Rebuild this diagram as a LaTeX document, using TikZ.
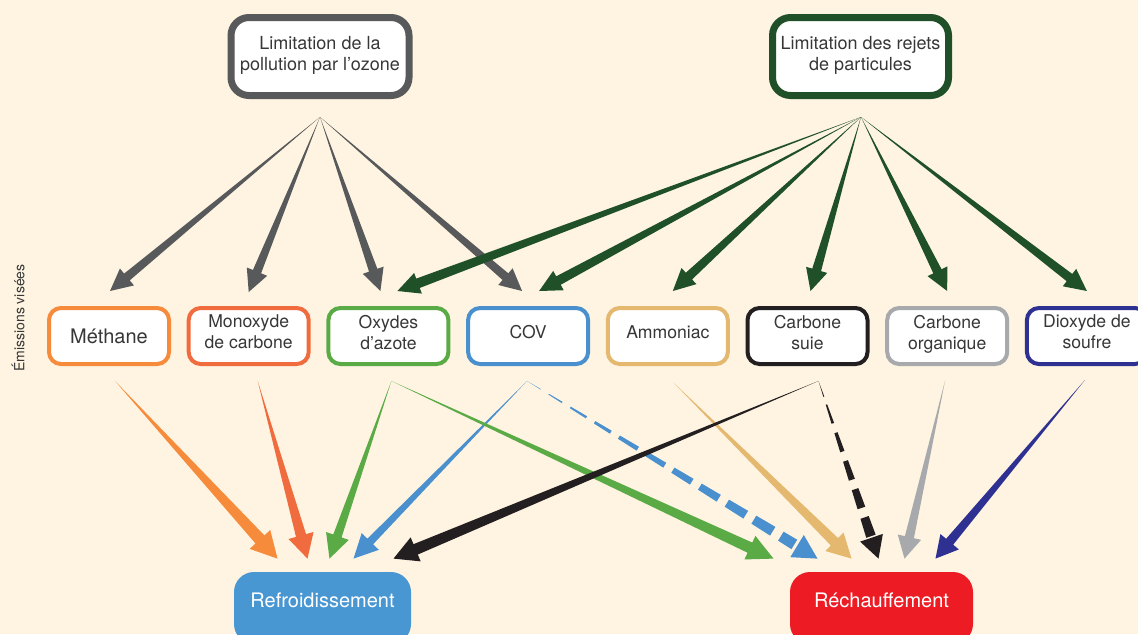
\documentclass[tikz,border=0pt]{standalone}
\usepackage{fontspec}
\setmainfont{TeX Gyre Heros}
\usetikzlibrary{calc}

\definecolor{fond}{RGB}{254,244,225}
\definecolor{texte}{RGB}{55,55,55}
\definecolor{grisOzone}{RGB}{88,89,91}
\definecolor{vertPart}{RGB}{31,80,40}
\definecolor{cMet}{RGB}{246,139,60}
\definecolor{cMon}{RGB}{240,108,62}
\definecolor{cOxy}{RGB}{90,170,70}
\definecolor{cCov}{RGB}{74,144,207}
\definecolor{cAmm}{RGB}{229,184,112}
\definecolor{cSuie}{RGB}{35,31,32}
\definecolor{cOrg}{RGB}{167,169,172}
\definecolor{cDio}{RGB}{46,49,146}
\definecolor{bleuRefr}{RGB}{72,150,210}
\definecolor{rougeRech}{RGB}{237,28,36}

\tikzset{
  cible/.style={draw, line width=3.5pt, rounded corners=9pt, fill=white, align=center,
    text=texte, minimum width=89pt, minimum height=39pt, text depth=3.5pt,
    font=\fontsize{9}{10.5}\selectfont},
  emission/.style={draw=#1, line width=2pt, rounded corners=6pt, fill=white, align=center,
    text=texte, minimum width=60pt, minimum height=28pt, text depth=4pt,
    font=\fontsize{8.8}{10.5}\selectfont},
  effet/.style={fill=#1, rounded corners=10pt, text=white, minimum height=36pt,
    text height=7.5pt, text depth=8pt, font=\fontsize{10}{12}\selectfont}
}

% wedge arrow: colour, from, to, shaft half width, head half width, head length
\newcommand{\fleche}[6]{%
  \coordinate (f-de) at (#2);
  \coordinate (f-a) at (#3);
  \coordinate (f-b) at ($(f-a)!#6!(f-de)$);
  \fill[#1] (f-de) -- ($(f-b)!#4!90:(f-a)$) -- ($(f-b)!#5!90:(f-a)$) -- (f-a)
    -- ($(f-b)!#5!-90:(f-a)$) -- ($(f-b)!#4!-90:(f-a)$) -- cycle;
}
% same, dashed shaft (#7 = list of dash fractions)
\newcommand{\flechepointillee}[7]{%
  \coordinate (f-de) at (#2);
  \coordinate (f-a) at (#3);
  \coordinate (f-b) at ($(f-a)!#6!(f-de)$);
  \fill[#1] ($(f-b)!#5!90:(f-a)$) -- (f-a) -- ($(f-b)!#5!-90:(f-a)$) -- cycle;
  \foreach \tA/\tB in {#7} {
    \coordinate (f-p) at ($(f-de)!\tA!(f-b)$);
    \coordinate (f-q) at ($(f-de)!\tB!(f-b)$);
    \fill[#1] ($(f-p)!\tA*#4!90:(f-b)$) -- ($(f-q)!\tB*#4!90:(f-b)$)
      -- ($(f-q)!\tB*#4!-90:(f-b)$) -- ($(f-p)!\tA*#4!-90:(f-b)$) -- cycle;
  }
}

\begin{document}
\begin{tikzpicture}[x=0.5pt, y=-0.5pt]
\useasboundingbox[fill=fond] (0,0) rectangle (1138,634);

% targets
\node[cible, draw=grisOzone] (ozone) at (320,56.5) {Limitation de la\\pollution par l'ozone};
\node[cible, draw=vertPart, minimum width=88pt] (part) at (860.5,56.5) {Limitation des rejets\\de particules};
\coordinate (ozone-pt) at (320,117);
\coordinate (part-pt) at (861,117);

% emissions
\node[rotate=90, text=texte, font=\fontsize{7}{8}\selectfont] (axe) at (18,318) {Émissions visées};
\node[emission=cMet, text depth=0pt, font=\fontsize{10}{12}\selectfont] (met) at (109,336) {Méthane};
\node[emission=cMon] (mon) at (248.7,336) {Monoxyde\\de carbone};
\node[emission=cOxy] (oxy) at (388.4,336) {Oxydes\\d'azote};
\node[emission=cCov] (cov) at (528.1,336) {COV};
\node[emission=cAmm] (amm) at (667.8,336) {Ammoniac};
\node[emission=cSuie] (suie) at (807.5,336) {Carbone\\suie};
\node[emission=cOrg] (org) at (947.2,336) {Carbone\\organique};
\node[emission=cDio] (dio) at (1086.9,336) {Dioxyde de\\soufre};

% effects
\node[effet=bleuRefr, minimum width=88.5pt] (refr) at (322.5,608) {Refroidissement};
\node[effet=rougeRech, minimum width=91.5pt] (rech) at (881.5,608) {Réchauffement};

% ozone arrows
\fleche{grisOzone}{ozone-pt}{$(met.north)+(1,-15)$}{2.2pt}{5.5pt}{11pt}
\fleche{grisOzone}{ozone-pt}{$(mon.north)+(0,-14)$}{2.2pt}{5.5pt}{11pt}
\fleche{grisOzone}{ozone-pt}{$(oxy.north)+(-8,-15)$}{2.2pt}{5.5pt}{11pt}
\fleche{grisOzone}{ozone-pt}{$(cov.north)+(-6,-15)$}{2.2pt}{5.5pt}{11pt}
% particle arrows
\fleche{vertPart}{part-pt}{$(oxy.north)+(9,-15)$}{2.5pt}{5.5pt}{11pt}
\fleche{vertPart}{part-pt}{$(cov.north)+(11,-15)$}{2.4pt}{5.5pt}{11pt}
\fleche{vertPart}{part-pt}{$(amm.north)+(5,-15)$}{2.3pt}{5.5pt}{11pt}
\fleche{vertPart}{part-pt}{$(suie.north)+(3,-15)$}{2.3pt}{5.5pt}{11pt}
\fleche{vertPart}{part-pt}{$(org.north)+(0,-15)$}{2.3pt}{5.5pt}{11pt}
\fleche{vertPart}{part-pt}{$(dio.north)+(0,-15)$}{2.3pt}{5.5pt}{11pt}

% cooling / warming
\fleche{cMet}{$(met.south)+(6,15)$}{$(refr.north)+(-45,-13)$}{3pt}{7pt}{13pt}
\fleche{cMon}{$(mon.south)+(9,15)$}{$(refr.north)+(-15,-13)$}{2.6pt}{6.5pt}{12pt}
\fleche{cCov}{$(cov.south)+(-1,15)$}{$(refr.north)+(31,-13)$}{2pt}{6pt}{12pt}
\fleche{cOxy}{$(oxy.south)+(3,15)$}{$(refr.north)+(7,-13)$}{2.2pt}{6pt}{12pt}
\fleche{cOxy}{$(oxy.south)+(3,15)$}{$(rech.north)+(-108,-13)$}{2.8pt}{6.5pt}{13pt}
\flechepointillee{cCov}{$(cov.south)+(-1,15)$}{$(rech.north)+(-64,-13)$}{2.8pt}{6.5pt}{12pt}%
  {0/0.05, 0.08/0.13, 0.16/0.22, 0.25/0.31, 0.34/0.41, 0.44/0.51, 0.54/0.61, 0.64/0.71, 0.74/0.81, 0.84/0.91, 0.94/0.99}
\fleche{cAmm}{$(amm.south)+(6,17)$}{$(rech.north)+(-30,-13)$}{2.6pt}{6.5pt}{12pt}
\flechepointillee{cSuie}{$(suie.south)+(11,15)$}{$(rech.north)+(-3,-13)$}{2.5pt}{6pt}{11pt}%
  {0/0.1, 0.15/0.27, 0.33/0.45, 0.51/0.63, 0.69/0.81, 0.87/0.99}
\fleche{cSuie}{$(suie.south)+(11,15)$}{$(refr.north)+(71,-13)$}{2.8pt}{6.5pt}{12pt}
\fleche{cOrg}{$(org.south)+(-2,14)$}{$(rech.north)+(23,-13)$}{2.3pt}{6pt}{11pt}
\fleche{cDio}{$(dio.south)+(-2,14)$}{$(rech.north)+(54,-13)$}{2.3pt}{6pt}{11pt}
\end{tikzpicture}
\end{document}
